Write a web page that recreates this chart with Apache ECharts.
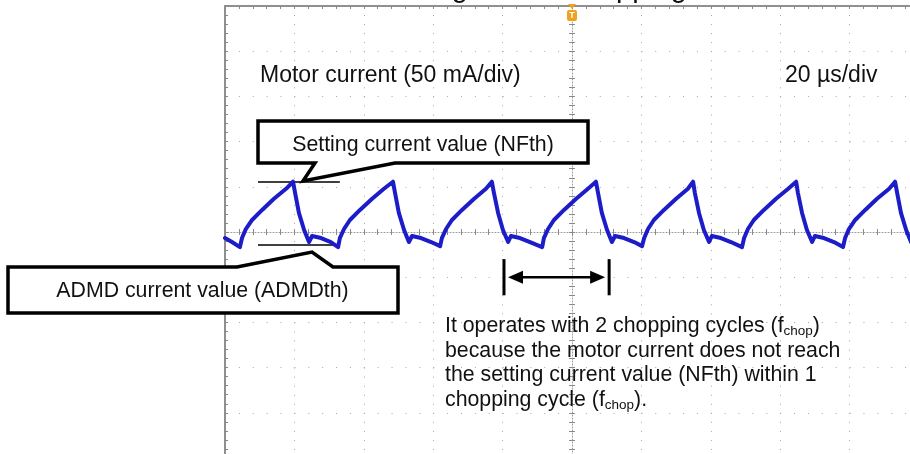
<!DOCTYPE html>
<html>
<head>
<meta charset="utf-8">
<script src="https://cdn.jsdelivr.net/npm/echarts@6/dist/echarts.min.js"></script>
<style>
html,body{margin:0;padding:0;background:#fff;}
#c{width:910px;height:454px;}
</style>
</head>
<body>
<div id="c"></div>
<script>
// ---- data (time in µs, current in mA relative to centre line) ----
const timeUs = [
  -100.0, -98.0, -95.7,
  -95.1, -94.0, -92.2, -89.3, -85.9, -82.4, -80.4,
  -79.8, -78.7, -77.2, -75.8, -74.9, -72.3, -69.5, -67.4,
  -66.9, -65.7, -64.0, -61.1, -57.6, -54.2, -51.6,
  -51.0, -49.9, -48.4, -47.0, -46.1, -43.5, -40.6, -38.0,
  -37.5, -36.3, -34.6, -31.7, -28.2, -24.8, -23.1,
  -22.5, -21.3, -19.9, -18.4, -17.6, -15.0, -12.1, -8.6,
  -8.1, -6.9, -5.2, -2.3, 1.2, 4.6, 6.9,
  7.5, 8.6, 10.1, 11.5, 12.4, 15.0, 17.9, 20.2,
  20.8, 21.9, 23.6, 26.5, 30.0, 33.4, 34.9,
  35.4, 36.6, 38.0, 39.5, 40.3, 42.9, 45.8, 49.0,
  49.6, 50.7, 52.4, 55.3, 58.8, 62.3, 64.6,
  65.1, 66.3, 67.7, 69.2, 70.0, 72.6, 75.5, 78.1,
  78.7, 79.8, 81.6, 84.5, 87.9, 91.4, 93.1,
  93.7, 94.8, 96.3, 97.7
];
const currentMa = [
  -6.7, -11.1, -16.7,
  -6.7, 3.3, 13.3, 24.4, 36.7, 47.8, 55.6,
  43.3, 21.1, 2.2, -11.1, -4.4, -6.7, -11.1, -16.7,
  -6.7, 3.3, 13.3, 24.4, 36.7, 47.8, 55.6,
  43.3, 21.1, 2.2, -11.1, -4.4, -6.7, -11.1, -15.6,
  -6.7, 3.3, 13.3, 24.4, 36.7, 47.8, 55.6,
  43.3, 21.1, 2.2, -11.1, -4.4, -6.7, -11.1, -16.7,
  -6.7, 3.3, 13.3, 24.4, 36.7, 47.8, 55.6,
  43.3, 21.1, 2.2, -11.1, -4.4, -6.7, -11.1, -15.6,
  -6.7, 3.3, 13.3, 24.4, 36.7, 47.8, 55.6,
  43.3, 21.1, 2.2, -11.1, -4.4, -6.7, -11.1, -16.7,
  -6.7, 3.3, 13.3, 24.4, 36.7, 47.8, 55.6,
  43.3, 21.1, 2.2, -11.1, -4.4, -6.7, -11.1, -16.7,
  -6.7, 3.3, 13.3, 24.4, 36.7, 47.8, 55.6,
  43.3, 21.1, 2.2, -11.1
];
const thresholdMa = [55.6, -14.4];          // NFth, ADMDth
const thresholdSpanUs = [-90.5, -66.9];
const chopSpanUs = [-19.6, 10.7];
const chopMarkerMa = [-30, -50, -70];
const xRangeUs = [-100, 100];
const usPerDiv = 20;
const yRangeMa = [-250, 250];
const maPerDiv = 50;

const titleText = 'Motor current waveform during ADMD chopping';
const scaleLabel = 'Motor current (50 mA/div)';
const timeLabel = '20 µs/div';
const nfthLabel = 'Setting current value (NFth)';
const admdLabel = 'ADMD current value (ADMDth)';
const noteText = 'It operates with 2 chopping cycles (f{sub|chop})\nbecause the motor current does not reach\nthe setting current value (NFth) within 1\nchopping cycle (f{sub|chop}).';

// ---- styling ----
const FF = '"Liberation Sans", Arial, sans-serif';
const dotColor = '#a6a6a6';
const tickColor = '#8a8a8a';
const borderColor = '#8f8f8f';
const traceColor = '#1c1cc8';

function axisBase(isX) {
  return {
    type: 'value',
    min: isX ? xRangeUs[0] : yRangeMa[0],
    max: isX ? xRangeUs[1] : yRangeMa[1],
    interval: isX ? usPerDiv : maPerDiv,
    axisLabel: { show: false },
    splitLine: { show: false },
    axisTick: { show: true, inside: true, length: 3, lineStyle: { color: tickColor, width: 1 } },
    minorTick: { show: true, splitNumber: 5, length: 3, lineStyle: { color: tickColor, width: 1 } },
    animation: false
  };
}

const xAxes = [
  Object.assign(axisBase(true), {
    position: 'bottom',
    axisLine: { show: true, onZero: true, lineStyle: { color: '#9a9a9a', width: 1, type: [1, 2] } },
    splitLine: { show: true, lineStyle: { color: dotColor, width: 1, type: [1, 8.04] } }
  }),
  Object.assign(axisBase(true), {
    position: 'top',
    axisLine: { show: false, onZero: true, onZeroAxisIndex: 0 }
  }),
  Object.assign(axisBase(true), {
    position: 'top',
    axisLine: { show: true, onZero: false, lineStyle: { color: borderColor, width: 2 } }
  })
];
const yAxes = [
  Object.assign(axisBase(false), {
    position: 'left',
    axisLine: { show: true, onZero: true, lineStyle: { color: '#9a9a9a', width: 1, type: [1, 2] } },
    splitLine: { show: true, lineStyle: { color: dotColor, width: 1, type: [1, 12.88] } }
  }),
  Object.assign(axisBase(false), {
    position: 'right',
    axisLine: { show: false, onZero: true, onZeroAxisIndex: 0 }
  }),
  Object.assign(axisBase(false), {
    position: 'left',
    axisLine: { show: true, onZero: false, lineStyle: { color: borderColor, width: 2 } }
  })
];

const traceData = timeUs.map((t, i) => [t, currentMa[i]]);

const option = {
  animation: false,
  backgroundColor: '#ffffff',
  grid: { left: 225, top: 6, width: 694, height: 452, containLabel: false, outerBoundsMode: 'none' },
  xAxis: xAxes,
  yAxis: yAxes,
  series: [{
    type: 'line',
    xAxisIndex: 0,
    yAxisIndex: 0,
    data: traceData,
    symbol: 'none',
    showSymbol: false,
    clip: true,
    z: 5,
    lineStyle: { color: traceColor, width: 4, join: 'round', cap: 'round' },
    markLine: {
      silent: true,
      symbol: ['none', 'none'],
      label: { show: false },
      lineStyle: { color: '#000', width: 1.5, type: 'solid' },
      emphasis: { disabled: true },
      data: thresholdMa.map(v => [
        { coord: [thresholdSpanUs[0], v] },
        { coord: [thresholdSpanUs[1], v] }
      ])
    }
  }]
};

const chart = echarts.init(document.getElementById('c'), null, { renderer: 'canvas', width: 910, height: 454 });
chart.setOption(option);

const px = (t, v) => chart.convertToPixel({ xAxisIndex: 0, yAxisIndex: 0 }, [t, v]);

const barLTop = px(chopSpanUs[0], chopMarkerMa[0]);
const barLBot = px(chopSpanUs[0], chopMarkerMa[2]);
const barRTop = px(chopSpanUs[1], chopMarkerMa[0]);
const barRBot = px(chopSpanUs[1], chopMarkerMa[2]);
const arrL = px(chopSpanUs[0], chopMarkerMa[1]);
const arrR = px(chopSpanUs[1], chopMarkerMa[1]);
const tipL = arrL[0] + 4, tipR = arrR[0] - 4, ay = arrL[1];
const trig = px(0, yRangeMa[1]);

const graphic = [
  // clipped title (only descenders visible)
  { type: 'text', z: 50, style: { x: 687, y: -11, text: titleText, fontSize: 29, fontFamily: FF, fill: '#111', align: 'right', verticalAlign: 'middle' } },
  // scale labels
  { type: 'text', z: 50, style: { x: 260, y: 75.5, text: scaleLabel, fontSize: 23, fontFamily: FF, fill: '#111', align: 'left', verticalAlign: 'middle' } },
  { type: 'text', z: 50, style: { x: 785, y: 75.5, text: timeLabel, fontSize: 23, fontFamily: FF, fill: '#111', align: 'left', verticalAlign: 'middle' } },
  // NFth callout
  { type: 'polygon', z: 40, shape: { points: [[258, 121], [588, 121], [588, 163], [395, 163], [303, 181], [315, 163], [258, 163]] },
    style: { fill: '#fff', stroke: '#000', lineWidth: 3.5, lineJoin: 'miter' } },
  { type: 'text', z: 50, style: { x: 423, y: 145, text: nfthLabel, fontSize: 21.3, fontFamily: FF, fill: '#111', align: 'center', verticalAlign: 'middle' } },
  // ADMDth callout
  { type: 'polygon', z: 40, shape: { points: [[8, 267], [237, 267], [312, 252], [333, 267], [398, 267], [398, 313], [8, 313]] },
    style: { fill: '#fff', stroke: '#000', lineWidth: 3.5, lineJoin: 'miter' } },
  { type: 'text', z: 50, style: { x: 202.5, y: 291.5, text: admdLabel, fontSize: 21.3, fontFamily: FF, fill: '#111', align: 'center', verticalAlign: 'middle' } },
  // chopping-span arrow
  { type: 'line', z: 45, shape: { x1: barLTop[0], y1: barLTop[1], x2: barLBot[0], y2: barLBot[1] }, style: { stroke: '#000', lineWidth: 3 } },
  { type: 'line', z: 45, shape: { x1: barRTop[0], y1: barRTop[1], x2: barRBot[0], y2: barRBot[1] }, style: { stroke: '#000', lineWidth: 3 } },
  { type: 'line', z: 45, shape: { x1: tipL + 10, y1: ay, x2: tipR - 10, y2: ay }, style: { stroke: '#000', lineWidth: 2.5 } },
  { type: 'polygon', z: 45, shape: { points: [[tipL, ay], [tipL + 15, ay - 6.5], [tipL + 15, ay + 6.5]] }, style: { fill: '#000' } },
  { type: 'polygon', z: 45, shape: { points: [[tipR, ay], [tipR - 15, ay - 6.5], [tipR - 15, ay + 6.5]] }, style: { fill: '#000' } },
  // explanatory note
  { type: 'text', z: 50, style: { x: 445, y: 314, text: noteText, fontSize: 21.3, fontFamily: FF, fill: '#111', lineHeight: 24.6, align: 'left', verticalAlign: 'top',
    rich: { sub: { fontSize: 13.5, fontFamily: FF, fill: '#111', lineHeight: 12, verticalAlign: 'bottom' } } } },
  // trigger marker
  { type: 'polygon', z: 55, shape: { points: [[trig[0] - 4, trig[1] - 2], [trig[0] + 4, trig[1] - 2], [trig[0], trig[1] + 3]] }, style: { fill: '#f2a11f' } },
  { type: 'rect', z: 55, shape: { x: trig[0] - 5, y: 10, width: 10, height: 11, r: 2 }, style: { fill: '#f2a11f' } },
  { type: 'text', z: 56, style: { x: trig[0], y: 15.8, text: 'T', fontSize: 9, fontWeight: 'bold', fontFamily: FF, fill: '#fff', align: 'center', verticalAlign: 'middle' } }
];

chart.setOption({ graphic: graphic });
</script>
</body>
</html>
